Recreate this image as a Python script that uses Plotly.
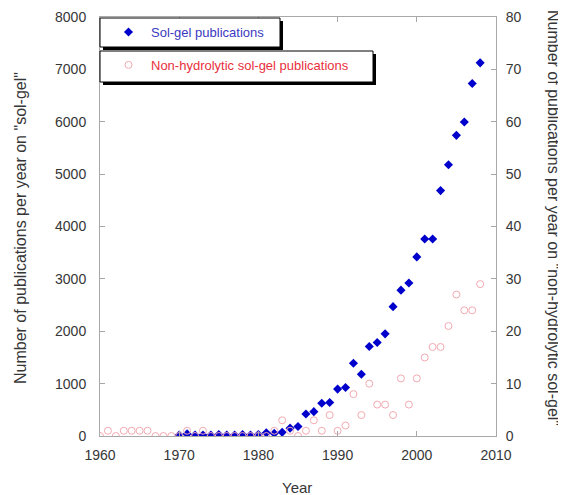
import plotly.graph_objects as go

years_solgel = list(range(1970, 2009))
solgel = [20, 40, 20, 20, 20, 30, 20, 20, 30, 20, 30, 60, 50, 70, 150, 180,
          420, 465, 625, 640, 895, 925, 1390, 1180, 1710, 1785, 1950, 2470,
          2785, 2920, 3420, 3760, 3760, 4685, 5180, 5740, 5995, 6730, 7125]

years_nh = list(range(1960, 2009))
nonhydro = [0, 1, 0, 1, 1, 1, 1, 0, 0, 0,
            0, 1, 0, 1, 0, 0, 0, 0, 0, 0,
            0, 0, 1, 3, 1, 0, 1, 3, 1, 4,
            1, 2, 8, 4, 10, 6, 6, 4, 11, 6,
            11, 15, 17, 17, 21, 27, 24, 24, 29]

x_ticks = [1960, 1970, 1980, 1990, 2000, 2010]
y_ticks = [0, 1000, 2000, 3000, 4000, 5000, 6000, 7000, 8000]
y2_ticks = [0, 10, 20, 30, 40, 50, 60, 70, 80]

FONT = "Liberation Sans, Arial, sans-serif"
AX = "#a8a8a8"
TXT = "#363636"

fig = go.Figure()
fig.add_trace(go.Scatter(
    x=years_solgel, y=solgel, mode="markers",
    name='<span style="color:#3a3ac0">Sol-gel publications</span>',
    marker=dict(symbol="diamond", size=7, color="#0000cc"),
    legendgroup="a"))
fig.add_trace(go.Scatter(
    x=years_nh, y=nonhydro, mode="markers", yaxis="y2",
    name='<span style="color:#e8303c">Non-hydrolytic sol-gel publications</span>',
    marker=dict(symbol="circle-open", size=7, color="#f2aab2", line=dict(width=1)),
    legendgroup="b"))

axis_common = dict(showgrid=False, zeroline=False, showline=True, linecolor=AX,
                   linewidth=1, ticks="inside", ticklen=5, tickcolor=AX,
                   tickfont=dict(family=FONT, size=14, color=TXT))

W, H = 558, 487
L, R, T, B = 92, 70, 9, 59
pw = W - L - R
ph = H - T - B


def px(xp):
    return (xp - L) / pw


def py(yp):
    return (H - B - yp) / ph


sx = 3 / pw
sy = 3 / ph

fig.update_layout(
    width=W, height=H,
    margin=dict(l=L, r=R, t=T, b=B, autoexpand=False),
    paper_bgcolor="white", plot_bgcolor="white",
    xaxis=dict(range=[1960, 2010], tickvals=x_ticks, mirror="ticks",
               ticklabelstandoff=6, **axis_common),
    yaxis=dict(range=[0, 8000], tickvals=y_ticks, ticklabelstandoff=10, **axis_common),
    yaxis2=dict(range=[0, 80], tickvals=y2_ticks, overlaying="y", side="right",
                ticklabelstandoff=6, **axis_common),
    showlegend=True,
    legend=dict(x=px(98), xanchor="left", y=py(9), yanchor="top",
                bgcolor="rgba(0,0,0,0)", borderwidth=0, tracegroupgap=13,
                itemwidth=35, font=dict(family=FONT, size=13)),
    annotations=[
        dict(text="Year", xref="paper", yref="paper", x=px(289), y=py(479),
             xanchor="center", yanchor="middle", showarrow=False,
             font=dict(family=FONT, size=15, color=TXT)),
        dict(text='Number of publications per year on "sol-gel"', xref="paper",
             yref="paper", x=px(12), y=py(220), textangle=-90, showarrow=False,
             xanchor="center", yanchor="middle",
             font=dict(family=FONT, size=16, color=TXT)),
        dict(text='Number of publications per year on "non-hydrolytic sol-gel"',
             xref="paper", yref="paper", x=px(546), y=py(210), textangle=90,
             showarrow=False, xanchor="center", yanchor="middle",
             font=dict(family=FONT, size=16, color=TXT)),
    ],
    shapes=[
        dict(type="rect", xref="paper", yref="paper", x0=px(92) + sx, x1=px(272) + sx,
             y0=py(39) - sy, y1=py(10) - sy, fillcolor="black", line=dict(width=0),
             layer="above"),
        dict(type="rect", xref="paper", yref="paper", x0=px(92) + sx, x1=px(365) + sx,
             y0=py(74) - sy, y1=py(43) - sy, fillcolor="black", line=dict(width=0),
             layer="above"),
        dict(type="rect", xref="paper", yref="paper", x0=px(92), x1=px(272),
             y0=py(39), y1=py(10), fillcolor="white", line=dict(color="black", width=1),
             layer="above"),
        dict(type="rect", xref="paper", yref="paper", x0=px(92), x1=px(365),
             y0=py(74), y1=py(43), fillcolor="white", line=dict(color="black", width=1),
             layer="above"),
    ],
)

fig.write_html("out.html")
